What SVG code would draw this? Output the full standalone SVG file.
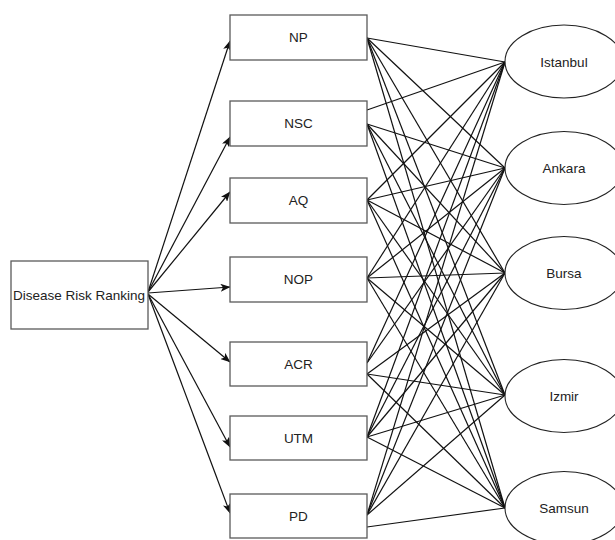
<svg xmlns="http://www.w3.org/2000/svg" width="615" height="540" viewBox="0 0 615 540">
<style>
.box{fill:#fff;stroke:#5a5a5a;stroke-width:1.3}
.ell{fill:#fff;stroke:#222;stroke-width:1.1}
.t{font-family:"Liberation Sans",Arial,sans-serif;font-size:13.5px;fill:#222;text-anchor:middle;dominant-baseline:central}
.c line{stroke:#111;stroke-width:1.2;fill:none}
.a line{stroke:#111;stroke-width:1.2;fill:none;marker-end:url(#arr)}
</style>
<defs>
<marker id="arr" viewBox="0 0 10 8" refX="9.5" refY="4" markerWidth="10" markerHeight="8" markerUnits="userSpaceOnUse" orient="auto">
<path d="M0,0 L10,4 L0,8 L2.5,4 z" fill="#111"/>
</marker>
</defs>
<rect width="615" height="540" fill="#fff"/>
<g id="connectors">
<g class="c">
<line x1="367" y1="38" x2="505" y2="62"/>
<line x1="367" y1="38" x2="505" y2="168"/>
<line x1="367" y1="38" x2="505" y2="273"/>
<line x1="367" y1="38" x2="505" y2="395"/>
<line x1="367" y1="38" x2="505" y2="508"/>
<line x1="367" y1="110" x2="505" y2="62"/>
<line x1="367" y1="124" x2="505" y2="168"/>
<line x1="367" y1="124" x2="505" y2="273"/>
<line x1="367" y1="124" x2="505" y2="395"/>
<line x1="367" y1="124" x2="505" y2="508"/>
<line x1="367" y1="200" x2="505" y2="62"/>
<line x1="367" y1="200" x2="505" y2="168"/>
<line x1="367" y1="200" x2="505" y2="273"/>
<line x1="367" y1="200" x2="505" y2="395"/>
<line x1="367" y1="200" x2="505" y2="508"/>
<line x1="367" y1="278" x2="505" y2="62"/>
<line x1="367" y1="278" x2="505" y2="168"/>
<line x1="367" y1="278" x2="505" y2="273"/>
<line x1="367" y1="278" x2="505" y2="395"/>
<line x1="367" y1="278" x2="505" y2="508"/>
<line x1="367" y1="363" x2="505" y2="62"/>
<line x1="367" y1="363" x2="505" y2="168"/>
<line x1="367" y1="374" x2="505" y2="273"/>
<line x1="367" y1="374" x2="505" y2="395"/>
<line x1="367" y1="374" x2="505" y2="508"/>
<line x1="367" y1="437" x2="505" y2="62"/>
<line x1="367" y1="437" x2="505" y2="168"/>
<line x1="367" y1="437" x2="505" y2="273"/>
<line x1="367" y1="437" x2="505" y2="395"/>
<line x1="367" y1="437" x2="505" y2="508"/>
<line x1="367" y1="515" x2="505" y2="62"/>
<line x1="367" y1="515" x2="505" y2="168"/>
<line x1="367" y1="515" x2="505" y2="273"/>
<line x1="367" y1="515" x2="505" y2="395"/>
<line x1="367" y1="527" x2="505" y2="508"/>
</g>
<g class="a">
<line x1="148" y1="292" x2="230" y2="41"/>
<line x1="148" y1="292" x2="230" y2="137"/>
<line x1="148" y1="292" x2="230" y2="192"/>
<line x1="148" y1="293" x2="230" y2="287"/>
<line x1="148" y1="294" x2="230" y2="362"/>
<line x1="148" y1="294" x2="230" y2="447"/>
<line x1="148" y1="294" x2="230" y2="513"/>
</g>
</g>
<g id="node-drr"><rect class="box" x="11" y="261" width="137" height="68"/><text class="t" x="79" y="295">Disease Risk Ranking</text></g>
<g id="node-np"><rect class="box" x="230" y="15" width="137" height="45"/><text class="t" x="298.5" y="37.5">NP</text></g>
<g id="node-nsc"><rect class="box" x="230" y="101" width="137" height="45"/><text class="t" x="298.5" y="123.5">NSC</text></g>
<g id="node-aq"><rect class="box" x="230" y="178" width="137" height="45"/><text class="t" x="298.5" y="200.5">AQ</text></g>
<g id="node-nop"><rect class="box" x="230" y="257" width="137" height="45"/><text class="t" x="298.5" y="279.5">NOP</text></g>
<g id="node-acr"><rect class="box" x="230" y="342" width="137" height="44"/><text class="t" x="298.5" y="364">ACR</text></g>
<g id="node-utm"><rect class="box" x="230" y="416" width="137" height="44"/><text class="t" x="298.5" y="438">UTM</text></g>
<g id="node-pd"><rect class="box" x="230" y="494" width="137" height="44"/><text class="t" x="298.5" y="516">PD</text></g>
<g id="node-istanbul"><ellipse class="ell" cx="564" cy="61.5" rx="59" ry="36.5"/><text class="t" x="564" y="62">Istanbul</text></g>
<g id="node-ankara"><ellipse class="ell" cx="564" cy="168" rx="59" ry="36.5"/><text class="t" x="564" y="168">Ankara</text></g>
<g id="node-bursa"><ellipse class="ell" cx="564" cy="273" rx="59" ry="36.5"/><text class="t" x="564" y="273">Bursa</text></g>
<g id="node-izmir"><ellipse class="ell" cx="564" cy="396" rx="59" ry="36.5"/><text class="t" x="564" y="396">Izmir</text></g>
<g id="node-samsun"><ellipse class="ell" cx="564" cy="508" rx="59" ry="36.5"/><text class="t" x="564" y="508">Samsun</text></g>
</svg>
